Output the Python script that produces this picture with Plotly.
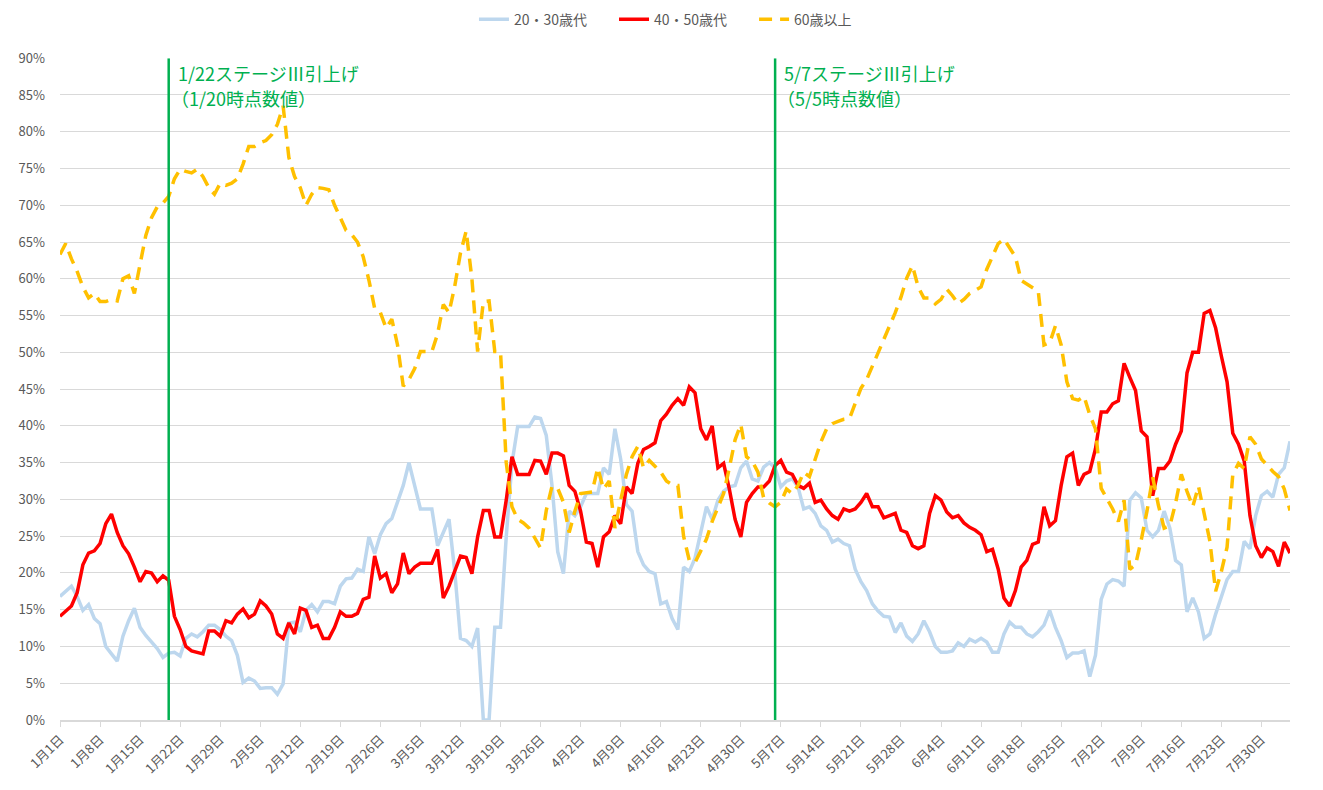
import pandas as pd
import plotly.graph_objects as go

# daily share (%) of new cases by age group, 2021-01-01 .. 2021-08-04
start_date = "2021-01-01"

age_20_30 = [
    16.8, 17.5, 18.2, 16.8, 14.9, 15.7, 13.8, 13.1, 10.0, 9.0, 8.0, 11.4, 13.5, 15.2, 12.6, 11.5,
    10.6, 9.7, 8.5, 9.1, 9.2, 8.7, 11.1, 11.7, 11.3, 12.0, 12.9, 12.9, 12.3, 11.4, 10.8, 8.8,
    5.1, 5.7, 5.3, 4.3, 4.4,
    4.4, 3.5, 4.9, 13.2, 13.3, 12.0, 14.9, 15.7, 14.7, 16.1, 16.1, 15.8, 18.2, 19.2, 19.3, 20.5,
    20.2, 24.9, 22.6, 25.2, 26.7, 27.4, 29.6, 31.9, 35.0, 31.9, 28.7, 28.7, 28.7, 23.7, 25.5, 27.3,
    20.2, 11.1, 10.8, 10.0,
    12.5, 0.0, 0.0, 12.6, 12.6, 24.9, 34.9, 39.9, 39.9, 39.9, 41.2, 41.0, 38.7, 31.9, 22.9, 19.9,
    28.4, 27.8, 29.0, 30.8, 30.8, 30.8, 34.3, 33.4, 39.6, 35.5, 29.3, 28.4, 22.9, 21.1, 20.2, 19.9,
    15.8, 16.1, 13.8, 12.3,
    20.8, 20.2, 22.0, 25.5, 29.0, 27.3, 29.9, 31.1, 31.7, 31.9, 34.3, 35.2, 32.8, 32.5, 34.4, 35.0,
    34.3, 31.7, 32.5, 32.8, 31.7, 28.7, 29.0, 28.1, 26.4, 25.8, 24.2, 24.6, 24.0, 23.7, 20.5, 18.8,
    17.6, 15.8, 14.8, 14.1,
    14.0, 11.9, 13.2, 11.4, 10.7, 11.7, 13.5, 12.0, 10.0, 9.2, 9.2, 9.4, 10.5, 10.0, 11.0, 10.6,
    11.1, 10.6, 9.2, 9.2, 11.7, 13.3, 12.6, 12.6, 11.7, 11.3, 12.0, 12.9, 14.9, 12.6, 10.8, 8.5,
    9.1, 9.1, 9.4, 5.9,
    8.8, 16.4, 18.5, 19.1, 18.9, 18.2, 29.9, 30.9, 30.2, 25.8, 24.9, 25.8, 28.4, 26.1, 21.7, 21.1,
    14.7, 16.6, 14.7, 11.1, 11.7, 14.4, 16.6, 19.1, 20.2, 20.2, 24.3, 23.3, 27.8, 30.5, 31.1, 30.3,
    33.4, 34.3, 37.9,
]

age_40_50 = [
    14.1, 14.8, 15.5, 17.3, 21.1, 22.7, 23.0, 24.0, 26.7, 28.0, 25.5, 23.7, 22.6, 20.8, 18.8, 20.2,
    20.0, 18.8, 19.6, 19.0, 14.1, 12.3, 10.0, 9.4, 9.2, 9.0, 12.1, 12.1, 11.4, 13.5, 13.2, 14.4,
    15.1, 13.9, 14.4, 16.2, 15.5,
    14.4, 11.7, 11.1, 13.2, 11.7, 15.2, 14.9, 12.6, 12.9, 11.1, 11.1, 12.6, 14.7, 14.1, 14.1, 14.5,
    16.4, 16.7, 22.3, 19.3, 19.9, 17.3, 18.5, 22.7, 19.9, 20.8, 21.3, 21.3, 21.3, 23.2, 16.6, 18.2,
    20.2, 22.3, 22.1, 19.9,
    24.9, 28.5, 28.5, 24.9, 24.9, 29.9, 35.8, 33.4, 33.4, 33.4, 35.3, 35.2, 33.4, 36.3, 36.3, 35.9,
    31.9, 31.1, 28.4, 24.2, 24.0, 20.8, 24.9, 25.6, 27.8, 26.7, 31.7, 30.8, 34.9, 36.8, 37.2, 37.7,
    40.7, 41.6, 42.8, 43.7,
    42.8, 45.3, 44.5, 39.6, 38.1, 40.0, 34.3, 34.9, 31.4, 27.3, 24.9, 29.6, 30.8, 31.7, 31.7, 32.5,
    34.6, 35.3, 33.7, 33.4, 31.9, 31.5, 32.2, 29.6, 29.9, 28.7, 27.8, 27.3, 28.7, 28.4, 28.7, 29.6,
    30.8, 29.0, 29.0, 27.5,
    27.8, 28.1, 25.8, 25.5, 23.7, 23.3, 23.7, 28.1, 30.5, 29.9, 28.3, 27.5, 27.8, 26.8, 26.2, 25.8,
    25.2, 22.9, 23.2, 20.5, 16.6, 15.5, 17.6, 20.8, 21.7, 23.9, 24.2, 29.0, 26.4, 27.1, 31.9, 35.8,
    36.3, 31.9,
    33.4, 33.8, 36.9, 41.9, 41.9, 43.0, 43.4, 48.5, 46.6, 44.8, 39.3, 38.5, 30.5, 34.2, 34.2, 35.2,
    37.5, 39.3, 47.2, 50.0, 50.0, 55.3, 55.7, 53.3, 49.5, 46.0, 39.0, 37.5, 35.2, 27.8, 23.7, 22.1,
    23.4, 22.9, 20.9, 24.2, 22.7,
]

age_60_plus = [
    63.3, 64.8, 62.7, 61.0, 58.9, 57.4, 58.0, 56.9, 56.9, 57.2, 57.0, 60.0, 60.4, 58.0, 62.0, 65.9,
    68.3, 69.8, 70.3, 71.2, 73.6, 74.9, 74.6, 74.4, 74.9, 73.9, 72.4, 71.5, 73.0, 72.7, 73.0, 73.6,
    75.6, 78.0, 78.0, 78.5, 78.8,
    79.6, 81.0, 83.5, 76.5, 73.9, 72.4, 70.0, 71.5, 72.4, 72.3, 72.1, 70.0, 68.3, 66.6, 66.0, 65.0,
    63.0, 59.8, 56.0, 55.4, 53.3, 54.5, 51.0, 45.4, 46.3, 47.8, 50.1, 50.1, 50.1, 52.5, 56.5, 55.4,
    59.0, 63.5, 66.5, 60.0,
    50.1, 56.9, 57.0, 50.1, 50.1, 35.0, 29.0, 27.3, 26.8, 26.1, 24.8, 23.4, 28.5, 31.8, 31.5, 29.6,
    25.5, 28.4, 30.8, 30.9, 31.0, 34.3, 31.4, 32.5, 26.1, 29.9, 33.4, 35.8, 37.2, 34.3, 35.3, 34.5,
    33.7, 32.5, 32.0, 31.9,
    25.0, 21.7, 21.4, 23.0, 24.6, 27.0, 29.0, 30.8, 34.3, 38.1, 40.2, 35.8, 35.2, 33.7, 30.2, 29.5,
    29.0, 29.6, 31.4, 30.8, 31.9, 33.7, 33.1, 35.5, 37.8, 39.6, 40.3, 40.6, 40.9, 41.0, 43.1, 45.1,
    46.3, 48.1, 50.1, 51.9,
    53.6, 55.4, 57.5, 60.1, 61.8, 58.9, 57.4, 57.4, 56.6, 57.2, 58.6, 57.7, 56.6, 57.2, 58.0, 58.5,
    58.9, 61.3, 63.0, 64.8, 65.4, 64.2, 63.0, 59.8, 59.3, 58.9, 58.3, 51.0, 51.3, 53.6, 51.0, 46.0,
    43.7, 43.5,
    44.0, 41.5, 39.6, 31.5, 30.2, 28.7, 27.0, 29.9, 20.5, 21.1, 24.5, 28.4, 33.0, 29.2, 26.1, 26.4,
    29.5, 33.4, 31.1, 29.0, 31.8, 27.8, 24.3, 17.5, 20.2, 23.5, 33.4, 34.9, 34.2, 38.5, 37.5, 35.5,
    34.6, 33.8, 33.1, 31.4, 28.5,
]

# stage III announcements (date of the data used)
stage_dates = ["2021-01-20", "2021-05-06"]
stage_titles = ["1/22ステージⅢ引上げ", "5/7ステージⅢ引上げ"]
stage_notes = ["（1/20時点数値）", "（5/5時点数値）"]

days = pd.date_range(start_date, periods=len(age_20_30), freq="D")
tick_days = days[::7]
tick_text = [f"{d.month}月{d.day}日" for d in tick_days]

FONT = "Noto Sans CJK JP"
GREY = "#595959"
GRID = "#D9D9D9"
GREEN = "#00B050"
PAD = "\u00a0" * 7  # extra room between legend entries

fig = go.Figure()
fig.add_trace(go.Scatter(x=days, y=age_20_30, mode="lines", name="20・30歳代" + PAD,
                         line=dict(color="#BDD7EE", width=3.5)))
fig.add_trace(go.Scatter(x=days, y=age_40_50, mode="lines", name="40・50歳代" + PAD,
                         line=dict(color="#FF0000", width=3.5)))
fig.add_trace(go.Scatter(x=days, y=age_60_plus, mode="lines", name="60歳以上",
                         line=dict(color="#FFC000", width=3.5, dash="13px,8px")))

for d, title, note in zip(stage_dates, stage_titles, stage_notes):
    fig.add_shape(type="line", xref="x", yref="y", x0=d, x1=d, y0=0, y1=90,
                  line=dict(color=GREEN, width=2.5), layer="above")
    fig.add_annotation(x=d, y=88.0, xref="x", yref="y", text=title, showarrow=False,
                       xanchor="left", yanchor="middle", xshift=7,
                       font=dict(family=FONT, size=18, color=GREEN))
    fig.add_annotation(x=d, y=84.6, xref="x", yref="y", text=note, showarrow=False,
                       xanchor="left", yanchor="middle", xshift=0,
                       font=dict(family=FONT, size=18, color=GREEN))

fig.update_layout(
    width=1323, height=790,
    margin=dict(l=60, r=33, t=54, b=70),
    paper_bgcolor="white", plot_bgcolor="white",
    font=dict(family=FONT, size=12, color=GREY),
    showlegend=True,
    legend=dict(orientation="h", x=0.503, xanchor="center", xref="container",
                y=0.975, yanchor="middle", yref="container",
                font=dict(size=14, color=GREY), traceorder="normal"),
)
fig.update_xaxes(
    range=[days[0], days[-1]],
    tickmode="array", tickvals=tick_days, ticktext=tick_text, tickangle=-45,
    ticks="outside", ticklen=5, tickcolor=GRID,
    showline=True, linecolor=GRID, linewidth=1.5,
    showgrid=False, zeroline=False,
    tickfont=dict(size=13, color=GREY),
)
fig.update_yaxes(
    range=[0, 90], dtick=5, ticksuffix="%",
    showgrid=True, gridcolor=GRID, gridwidth=1,
    showline=False, zeroline=False, ticks="",
    ticklabelstandoff=14,
    tickfont=dict(size=13, color=GREY),
)

fig.write_html("out.html", config={"displayModeBar": False},
               post_script="document.body.style.margin='0';")
